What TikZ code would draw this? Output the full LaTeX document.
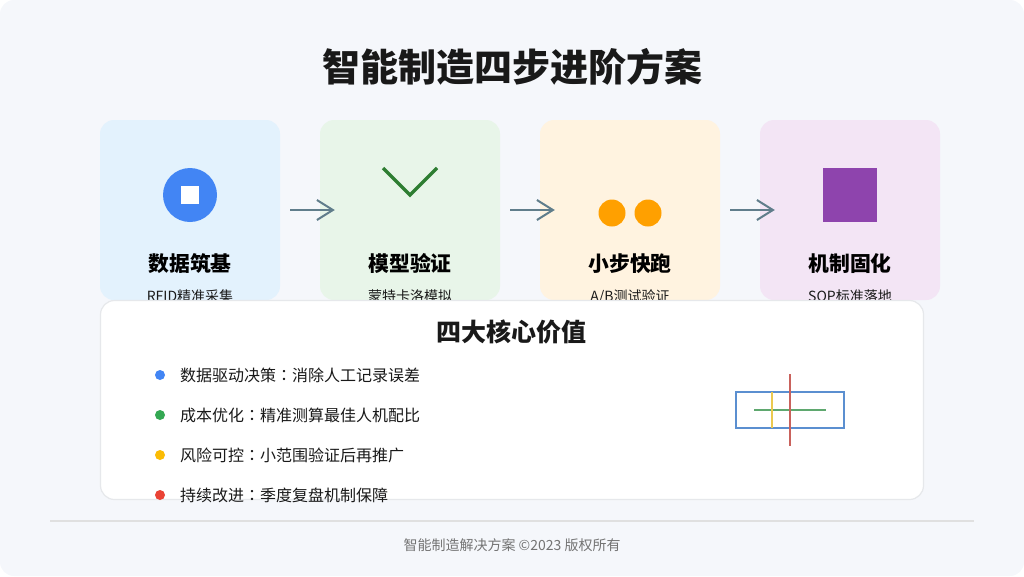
\documentclass[tikz,border=0pt]{standalone}
\usepackage{fontspec}
\setmainfont{Noto Sans CJK SC}
\newfontfamily\midcolonfont{Noto Sans CJK TC}
\newcommand{\midcolon}{{\midcolonfont ：}}
\usetikzlibrary{arrows.meta}
\definecolor{pagebg}{HTML}{F5F7FB}
\definecolor{cardblue}{HTML}{E3F2FD}
\definecolor{cardgreen}{HTML}{E8F5E9}
\definecolor{cardorange}{HTML}{FFF3E0}
\definecolor{cardpurple}{HTML}{F3E5F5}
\definecolor{iconblue}{HTML}{4285F4}
\definecolor{icongreen}{HTML}{2E7D32}
\definecolor{iconorange}{HTML}{FFA000}
\definecolor{iconpurple}{HTML}{8E44AD}
\definecolor{dotgreen}{HTML}{34A853}
\definecolor{dotyellow}{HTML}{FBBC05}
\definecolor{dotred}{HTML}{EA4335}
\definecolor{arrowgray}{HTML}{607D8B}
\definecolor{rulegray}{HTML}{E0E0E0}
\definecolor{panelline}{HTML}{E6E8EB}
\definecolor{chartblue}{HTML}{5B8FD0}
\definecolor{chartgreen}{HTML}{5FA86F}
\definecolor{chartyellow}{HTML}{EBC94F}
\definecolor{chartred}{HTML}{C9625C}
\tikzset{
    card/.style={minimum width=180pt,minimum height=180pt,inner sep=0pt,rounded corners=14pt},
    cardtitle/.style={anchor=base,font=\fontsize{20.8}{24}\selectfont\bfseries,text=black},
    cardtext/.style={anchor=base,font=\fontsize{14}{16}\selectfont,text=black!90},
    flowarrow/.style={-{Straight Barb[length=16pt,width=20pt,line width=2pt]},arrowgray,line width=2pt},
    valuedot/.style={circle,minimum size=10pt,inner sep=0pt},
    valuetext/.style={anchor=west,font=\fontsize{16}{20}\selectfont,text=black!90,inner sep=0pt},
    chartline/.style={line width=2.3pt}
}
\begin{document}
\begin{tikzpicture}[x=1pt,y=-1pt]
\useasboundingbox (0,0) rectangle (1024,576);
\fill[pagebg,rounded corners=14pt] (0,0) rectangle (1024,576);
\node (title) at (512,67) {\fontsize{38}{46}\selectfont\bfseries\color{black!90}智能制造四步进阶方案};

% step cards
\foreach \name/\x/\col/\head/\sub in {one/190/cardblue/数据筑基/RFID精准采集,two/410/cardgreen/模型验证/蒙特卡洛模拟,three/630/cardorange/小步快跑/A\slash B测试验证,four/850/cardpurple/机制固化/SOP标准落地}
{
    \node[card,fill=\col] (\name) at (\x,210) {};
    \node[cardtitle] (\name title) at (\x,271) {\head};
    \node[cardtext] (\name sub) at (\x,301.5) {\sub};
}

% icons
\node[circle,fill=iconblue,minimum size=54pt,inner sep=0pt] (disc) at (190,195) {};
\node[fill=white,minimum size=18pt,inner sep=0pt] (disccore) at (disc) {};
\draw[icongreen,line width=3.3pt] (383,168)--(410,195)--(437,168);
\node[circle,fill=iconorange,minimum size=27pt,inner sep=0pt] (dotleft) at (612,213) {};
\node[circle,fill=iconorange,minimum size=27pt,inner sep=0pt] (dotright) at (648,213) {};
\node[fill=iconpurple,minimum size=54pt,inner sep=0pt] (block) at (850,195) {};

\draw[flowarrow] ([xshift=10pt]one.east)--([xshift=15pt]two.west);
\draw[flowarrow] ([xshift=10pt]two.east)--([xshift=15pt]three.west);
\draw[flowarrow] ([xshift=10pt]three.east)--([xshift=15pt]four.west);

% value panel
\node[draw=panelline,line width=1.2pt,fill=white,rounded corners=14pt,minimum width=823pt,minimum height=199pt,inner sep=0pt] (panel) at (512,400) {};
\node (paneltitle) at (511,332) {\fontsize{25}{30}\selectfont\bfseries\color{black!90}四大核心价值};
\foreach \y/\col/\txt in {375/iconblue/数据驱动决策\midcolon 消除人工记录误差,415/dotgreen/成本优化\midcolon 精准测算最佳人机配比,455/dotyellow/风险可控\midcolon 小范围验证后再推广,495/dotred/持续改进\midcolon 季度复盘机制保障}
{
    \node[valuedot,fill=\col] (dot\y) at (160,\y) {};
    \node[valuetext] (item\y) at (180,\y) {\txt};
}

% small chart
\draw[chartblue,chartline] (736,392) rectangle (844,428);
\draw[chartgreen,chartline] (754,410)--(826,410);
\draw[chartyellow,chartline] (772,392)--(772,428);
\draw[chartred,chartline] (790,374)--(790,446);

% footer
\draw[rulegray,line width=2pt] (50,521)--(974,521);
\node (footer) at (512,545) {\fontsize{14}{18}\selectfont\color{black!55}智能制造解决方案 ©2023 版权所有};
\end{tikzpicture}
\end{document}
